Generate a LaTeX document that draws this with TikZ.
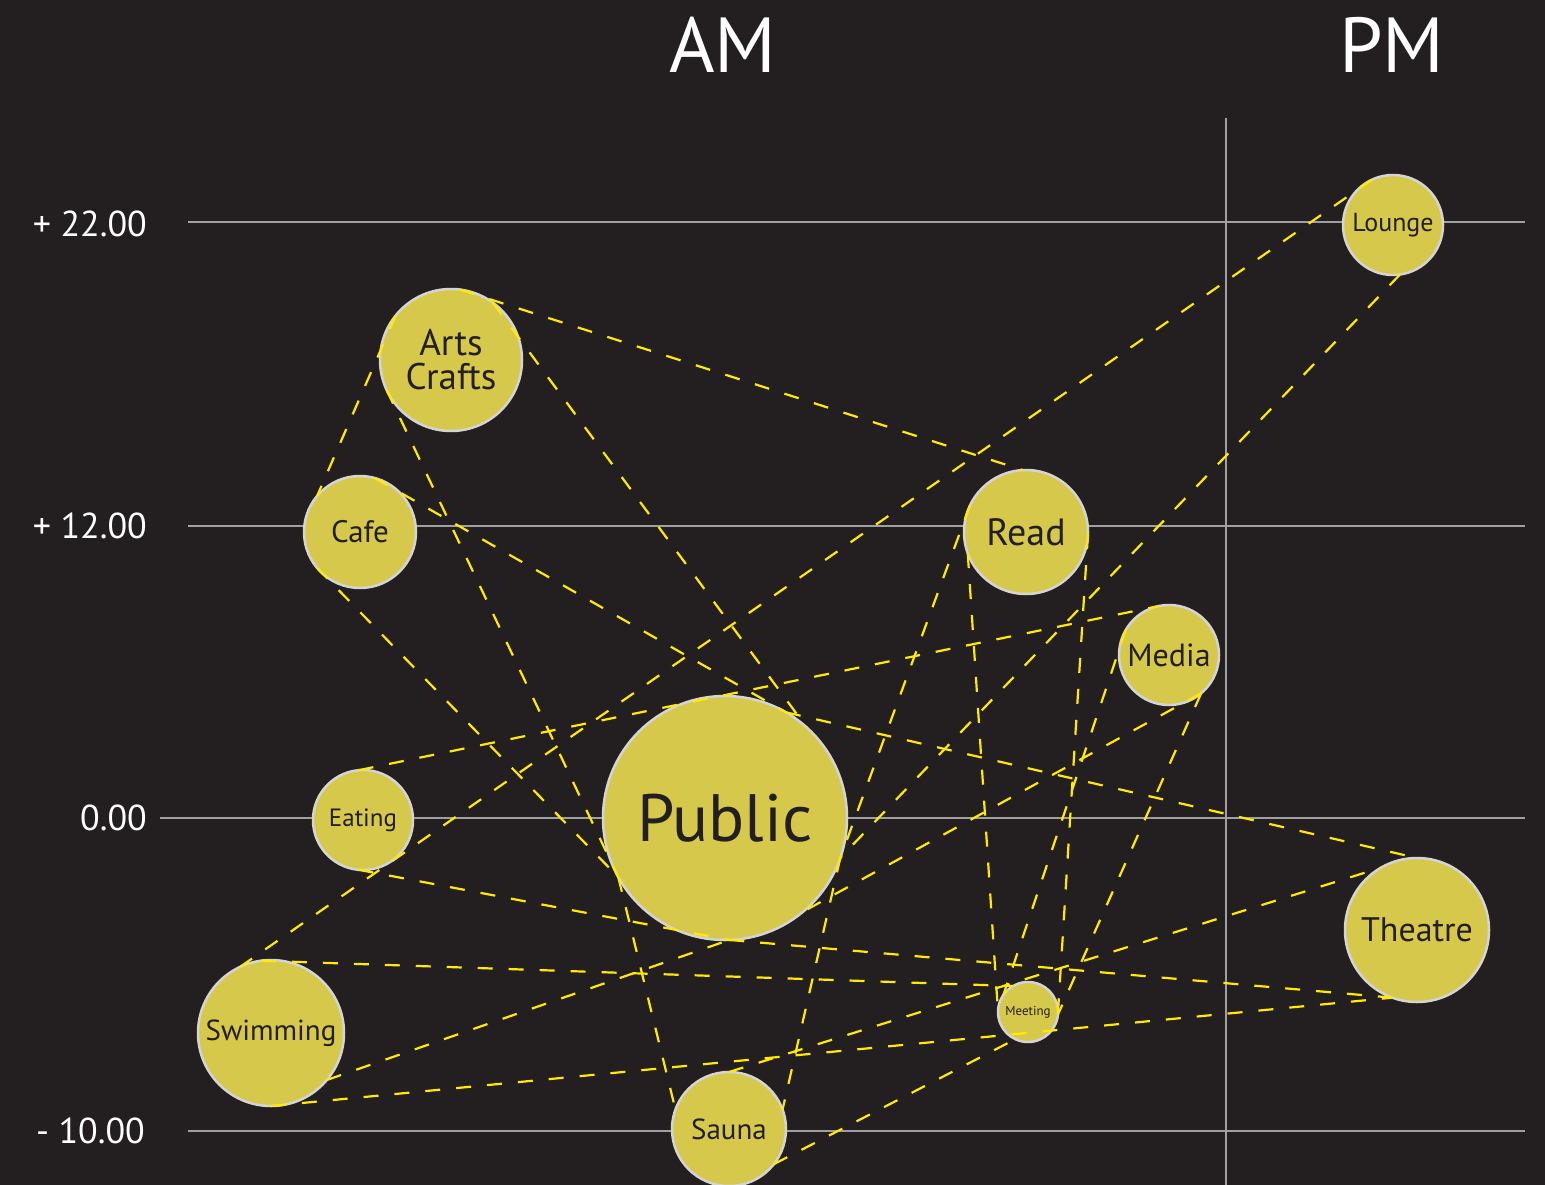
\documentclass[tikz,border=0pt]{standalone}
\usepackage{fontspec}
\setmainfont{PT Sans}
\definecolor{bg}{HTML}{231F20}
\definecolor{bubble}{HTML}{D6C84A}
\definecolor{rim}{HTML}{D4D4D4}
\definecolor{ink}{HTML}{231F20}
\definecolor{gridc}{HTML}{A0A0A0}
\definecolor{linkc}{HTML}{FFEA00}
\newcommand{\fs}[1]{\fontsize{#1}{#1}\selectfont}
\begin{document}
\begin{tikzpicture}[x=1pt,y=-1pt,
  bub/.style={circle,fill=bubble,draw=rim,line width=2.5pt,inner sep=0pt,outer sep=0pt,text=ink,align=center},
  lnk/.style={draw=linkc,line width=2.2pt,dash pattern=on 15pt off 16pt},
  gridline/.style={draw=gridc,line width=1.8pt},
  axlab/.style={anchor=east,text=white,font=\fs{36},inner sep=0pt},
  ampm/.style={text=white,font=\fs{78},inner sep=0pt}]
\useasboundingbox (0,0) rectangle (1545,1185);
\fill[bg] (0,0) rectangle (1545,1185);
% grid
\coordinate (g1a) at (188,222); \coordinate (g1b) at (1525,222);
\coordinate (g2a) at (188,526); \coordinate (g2b) at (1525,526);
\coordinate (g3a) at (160,818); \coordinate (g3b) at (1525,818);
\coordinate (g4a) at (188,1131); \coordinate (g4b) at (1525,1131);
\coordinate (gva) at (1226,118); \coordinate (gvb) at (1226,1185);
\draw[gridline] (g1a) -- (g1b);
\draw[gridline] (g2a) -- (g2b);
\draw[gridline] (g3a) -- (g3b);
\draw[gridline] (g4a) -- (g4b);
\draw[gridline] (gva) -- (gvb);
% labels
\node[axlab] (l22) at (147,224) {+ 22.00};
\node[axlab] (l12) at (147,526) {+ 12.00};
\node[axlab] (l0) at (147,818) {0.00};
\node[axlab] (l10) at (145,1131) {- 10.00};
\node[ampm] (am) at (723,45) {AM};
\node[ampm] (pm) at (1392,45) {PM};
% bubbles
\node[bub,minimum size=244pt,font=\fs{67}] (Public) at (725,818) {Public};
\node[bub,minimum size=142pt,font=\fontsize{37}{34}\selectfont] (Arts) at (451,360) {Arts\\Crafts};
\node[bub,minimum size=112pt,font=\fs{31}] (Cafe) at (360,532) {Cafe};
\node[bub,minimum size=124pt,font=\fs{38}] (Read) at (1026,532) {Read};
\node[bub,minimum size=100pt,font=\fs{32}] (Media) at (1169,655) {Media};
\node[bub,minimum size=100pt,font=\fs{25}] (Eating) at (363,820) {Eating};
\node[bub,minimum size=146pt,font=\fs{29}] (Swim) at (271,1033) {Swimming};
\node[bub,minimum size=114pt,font=\fs{29}] (Sauna) at (729,1129) {Sauna};
\node[bub,minimum size=60pt,font=\fs{13}] (Meet) at (1028,1012) {Meeting};
\node[bub,minimum size=144pt,font=\fs{34}] (Theatre) at (1417,930) {Theatre};
\node[bub,minimum size=100pt,font=\fs{26}] (Lounge) at (1393,225) {Lounge};
% links
\draw[lnk] (Lounge.115) -- (Swim.115);
\draw[lnk] (Lounge.-82) -- (Public.-19);
\draw[lnk] (Arts.83) -- (Read.93);
\draw[lnk] (Arts.54) -- (Public.48);
\draw[lnk] (Arts.141) -- (Cafe.140);
\draw[lnk] (Arts.205) -- (Public.209);
\draw[lnk] (Cafe.75) -- (Public.60);
\draw[lnk] (Public.60) -- (Theatre.90);
\draw[lnk] (Cafe.220) -- (Public.209);
\draw[lnk] (Public.209) -- (Sauna.160);
\draw[lnk] (Eating.95) -- (Media.102);
\draw[lnk] (Eating.-95) -- (Public.-88);
\draw[lnk] (Public.-88) -- (Theatre.250);
\draw[lnk] (Swim.98) -- (Meet.120);
\draw[lnk] (Swim.-40) -- (Public.-88);
\draw[lnk] (Swim.-90) -- (Theatre.250);
\draw[lnk] (Sauna.90) -- (Theatre.120);
\draw[lnk] (Read.200) -- (Meet.180);
\draw[lnk] (Media.150) -- (Meet.145);
\draw[lnk] (Read.-2) -- (Meet.0);
\draw[lnk] (Media.-50) -- (Meet.-5);
\draw[lnk] (Media.-50) -- (Public.-50);
\draw[lnk] (Sauna.-38) -- (Meet.-115);
\draw[lnk] (Read.155) -- (Public.-19);
\draw[lnk] (Public.-19) -- (Sauna.20);
\end{tikzpicture}
\end{document}
